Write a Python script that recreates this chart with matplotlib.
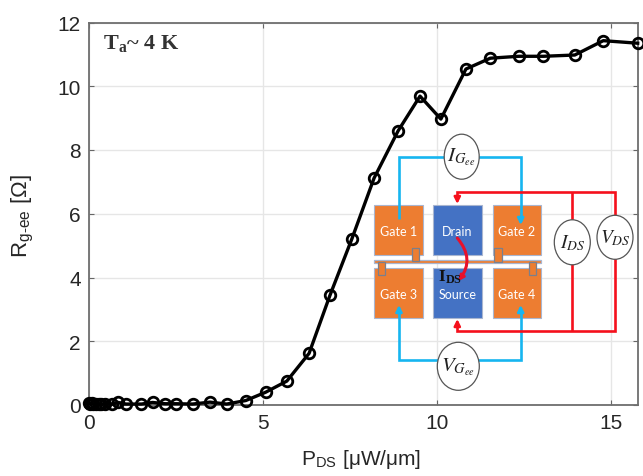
import matplotlib
matplotlib.use("Agg")
import matplotlib.pyplot as plt
from matplotlib.patches import Rectangle, Ellipse, FancyArrowPatch

plt.rcParams['font.family'] = ['Liberation Sans', 'DejaVu Sans']
plt.rcParams['mathtext.fontset'] = 'stix'

# values
pds = [0.0, 0.03, 0.07, 0.12, 0.2, 0.28, 0.35, 0.45, 0.64, 0.83, 1.05, 1.5, 1.82, 2.18, 2.5, 2.97,
       3.47, 3.95, 4.5, 5.07, 5.68, 6.32, 6.92, 7.55, 8.19, 8.88, 9.51, 10.11, 10.83, 11.53, 12.35,
       13.06, 13.96, 14.78, 15.77]
rg = [0.06, 0.04, 0.05, 0.03, 0.02, 0.03, 0.02, 0.03, 0.02, 0.08, 0.03, 0.03, 0.08, 0.04, 0.04, 0.03,
      0.09, 0.03, 0.14, 0.40, 0.75, 1.62, 3.44, 5.21, 7.12, 8.60, 9.69, 8.97, 10.54, 10.88, 10.94,
      10.94, 10.98, 11.43, 11.35]
xticks = [0, 5, 10, 15]
yticks = [0, 2, 4, 6, 8, 10, 12]
gates = ['Gate 1', 'Gate 2', 'Gate 3', 'Gate 4']
channels = ['Drain', 'Source']

W, H = 643, 477
ORANGE = '#ed7d31'
BLUE = '#4472c4'
CYAN = '#16b5f0'
RED = '#f5101c'
EDGE = '#a9b6d0'


def box(ax, x0, y0, x1, y1, color, edge=EDGE, lw=0.8):
    ax.add_patch(Rectangle((x0, y0), x1 - x0, y1 - y0, fc=color, ec=edge, lw=lw, zorder=3))


def wire(ax, xs, ys, color):
    ax.plot(xs, ys, color=color, lw=1.9, solid_joinstyle='miter', solid_capstyle='butt', zorder=4)


def arrowhead(ax, start, end, color):
    ax.add_patch(FancyArrowPatch(start, end, arrowstyle='-|>', mutation_scale=9, color=color,
                                 lw=1.9, shrinkA=0, shrinkB=0, zorder=4))


def meter(ax, cx, cy, w, h, label, size):
    ax.add_patch(Ellipse((cx, cy), w, h, fc='white', ec='#555555', lw=0.9, zorder=5))
    ax.text(cx, cy, label, ha='center', va='center', fontsize=size, color='#222222', zorder=6)


fig = plt.figure(figsize=(W / 100, H / 100), dpi=100)
ax = fig.add_axes([89.3 / W, 1 - 406 / H, (637.7 - 89.3) / W, (406 - 23.5) / H])
ax.plot(pds, rg, color='black', lw=2.4, marker='o', ms=7.6, mfc='none', mec='black', mew=2.0,
        clip_on=False, zorder=5)
ax.set_xlim(0, 15.77)
ax.set_ylim(0, 12)
ax.set_xticks(xticks)
ax.set_yticks(yticks)
ax.grid(True, color='#e6e6e6', lw=1.0)
ax.set_axisbelow(True)
ax.tick_params(direction='in', length=3.5, width=0.8, color='#666666', top=True, right=True,
               labelsize=15, labelcolor='#262626', pad=6)
for spine in ax.spines.values():
    spine.set_color('#6e6e6e')
    spine.set_linewidth(1.3)
fig.text(22 / W, 1 - 216 / H, r'R$_{\mathregular{g\text{-}ee}}$ [$\mathregular{\Omega}$]', rotation=90,
         ha='center', va='center', fontsize=16, color='#262626')
fig.text(361 / W, 1 - 460 / H, r'P$_{\mathregular{DS}}$ [$\mathregular{\mu}$W/$\mathregular{\mu}$m]',
         ha='center', va='center', fontsize=15, color='#262626')

# schematic on top, in pixel coordinates
ov = fig.add_axes([0, 0, 1, 1], facecolor='none')
ov.set_xlim(0, W)
ov.set_ylim(H, 0)
ov.axis('off')

ov.text(103, 44, r'T$_{\mathregular{a}}$~ 4 K', family='Liberation Serif', fontweight='bold',
        fontsize=16, color='#333333', va='center', ha='left',
        math_fontfamily='dejavuserif')

# wires
wire(ov, [399, 399, 520.7, 520.7], [220, 157.5, 157.5, 222], CYAN)
wire(ov, [399, 399, 520.7, 520.7], [310, 361, 361, 310], CYAN)
wire(ov, [457.3, 457.3, 615, 615, 457.3, 457.3], [200, 193.3, 193.3, 331.7, 331.7, 325], RED)
wire(ov, [572.3, 572.3], [193.3, 331.7], RED)

# pads
gate_boxes = [(374.3, 206), (492.7, 206), (374.3, 268.7), (492.7, 268.7)]
for name, (x0, y0) in zip(gates, gate_boxes):
    box(ov, x0, y0, x0 + 48.4, y0 + 50, ORANGE)
    ov.text(x0 + 24.2, y0 + 26, name, color='white', family='Lato', fontsize=9,
            ha='center', va='center', zorder=6)
for name, y0 in zip(channels, [206, 268.7]):
    box(ov, 433.3, y0, 481.7, y0 + 50, BLUE)
    ov.text(457.5, y0 + 26, name, color='white', family='Lato', fontsize=9,
            ha='center', va='center', zorder=6)

box(ov, 374.3, 261, 541, 264, ORANGE, lw=0.9)
for x0, y0, x1, y1 in [(411.7, 249, 419, 262.3), (494.3, 249.3, 502.3, 263.3),
                       (377.7, 262.7, 385, 275.7), (528.7, 262.7, 536, 275.7)]:
    box(ov, x0, y0, x1, y1, ORANGE, edge='#7b7f8c', lw=0.9)

# arrows into the pads
arrowhead(ov, (520.7, 220), (520.7, 226), CYAN)
arrowhead(ov, (399, 312), (399, 306), CYAN)
arrowhead(ov, (520.7, 312), (520.7, 306), CYAN)
arrowhead(ov, (457.3, 199), (457.3, 205), RED)
arrowhead(ov, (457.3, 326), (457.3, 320), RED)
ov.add_patch(FancyArrowPatch((457.3, 239), (458.3, 282), connectionstyle='arc3,rad=-0.4',
                             arrowstyle='-|>', mutation_scale=7, color='#e8102a', lw=2.2,
                             shrinkA=0, shrinkB=0, zorder=7))
ov.text(450, 277, 'I$_{\\mathregular{DS}}$', family='Liberation Serif', fontweight='bold', fontsize=12.5,
        color='#111111', ha='center', va='center', zorder=8, math_fontfamily='stix')

# meters
meter(ov, 461.7, 157.7, 35, 45, r'$I_{G_{ee}}$', 15)
meter(ov, 458.3, 367.3, 42, 48, r'$V_{G_{ee}}$', 15)
meter(ov, 572.3, 243.3, 36, 45, r'$I_{DS}$', 14)
meter(ov, 615, 238.3, 36, 44, r'$V_{DS}$', 14)

fig.savefig('out.png', dpi=100)
